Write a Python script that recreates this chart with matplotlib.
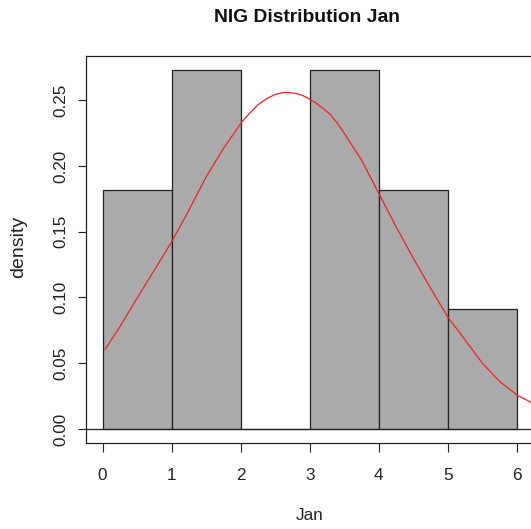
import matplotlib
matplotlib.use("Agg")
import matplotlib.pyplot as plt
import numpy as np

plt.rcParams['font.family'] = ['Liberation Sans', 'DejaVu Sans']

# Histogram bins and densities
bin_edges = [0, 1, 2, 3, 4, 5, 6]
densities = [0.1818, 0.2727, 0.0, 0.2727, 0.1818, 0.0909]

# Fitted NIG density curve
curve_x = [0.04, 0.25, 0.5, 0.75, 1.0, 1.25, 1.5, 1.75, 2.0, 2.1, 2.25, 2.33, 2.4,
           2.5, 2.6, 2.67, 2.8, 2.9, 3.0, 3.1, 3.2, 3.29, 3.4, 3.5, 3.62, 3.75,
           4.0, 4.25, 4.5, 4.75, 5.0, 5.25, 5.5, 5.75, 6.0, 6.25]
curve_y = [0.0608, 0.0777, 0.0995, 0.1208, 0.1423, 0.1664, 0.1917, 0.2133, 0.2323,
           0.2385, 0.2465, 0.2495, 0.2518, 0.2544, 0.2557, 0.2559, 0.2552, 0.2535,
           0.2508, 0.2475, 0.2433, 0.2395, 0.2325, 0.2247, 0.2150, 0.2044,
           0.1790, 0.1537, 0.1297, 0.1069, 0.0849, 0.0676, 0.0499, 0.0360, 0.0258,
           0.0190]

xticks = [0, 1, 2, 3, 4, 5, 6]
xtick_labels = ['0', '1', '2', '3', '4', '5', '6']
yticks = [0.00, 0.05, 0.10, 0.15, 0.20, 0.25]
ytick_labels = ['0.00', '0.05', '0.10', '0.15', '0.20', '0.25']

W, H = 531, 529
fig = plt.figure(figsize=(W / 100, H / 100), dpi=100)
left_px, right_px, top_px, bottom_px = 86, 533.6, 56, 443.3
ax = fig.add_axes([left_px / W, (H - bottom_px) / H,
                   (right_px - left_px) / W, (bottom_px - top_px) / H])

widths = np.diff(bin_edges)
ax.bar(bin_edges[:-1], densities, width=widths, align='edge',
       color='#AAAAAA', edgecolor='#222222', linewidth=0.9, zorder=2)
ax.axhline(0, color='#222222', linewidth=0.9, zorder=3)
ax.plot(curve_x, curve_y, color='#EE2222', linewidth=0.9, zorder=4,
        solid_joinstyle='round', antialiased=True)

ax.set_xlim(-0.24, 6.24)
ax.set_ylim(-0.0109, 0.2836)

ax.set_xticks(xticks)
ax.set_xticklabels(xtick_labels, fontsize=12.3)
ax.set_yticks(yticks)
ax.set_yticklabels(ytick_labels, fontsize=12.3, rotation=90, va='center')
ax.tick_params(axis='x', direction='out', length=6.5, width=0.8, pad=11.5, colors='#222222')
ax.tick_params(axis='y', direction='out', length=6, width=0.8, pad=6.5, colors='#222222')
for lab in ax.get_xticklabels() + ax.get_yticklabels():
    lab.set_color('#222222')

for s in ax.spines.values():
    s.set_linewidth(0.9)
    s.set_color('#222222')

fig.text(19 / W, 1 - 247 / H, 'density', rotation=90, fontsize=14,
         ha='center', va='center', color='#222222')
fig.text(310 / W, 1 - 515 / H, 'Jan', fontsize=12.3,
         ha='center', va='center', color='#222222')
fig.text(307 / W, 1 - 18 / H, 'NIG Distribution Jan', fontsize=13.9,
         fontweight='bold', ha='center', va='center', color='#111111')

fig.savefig('out.png', dpi=100)
